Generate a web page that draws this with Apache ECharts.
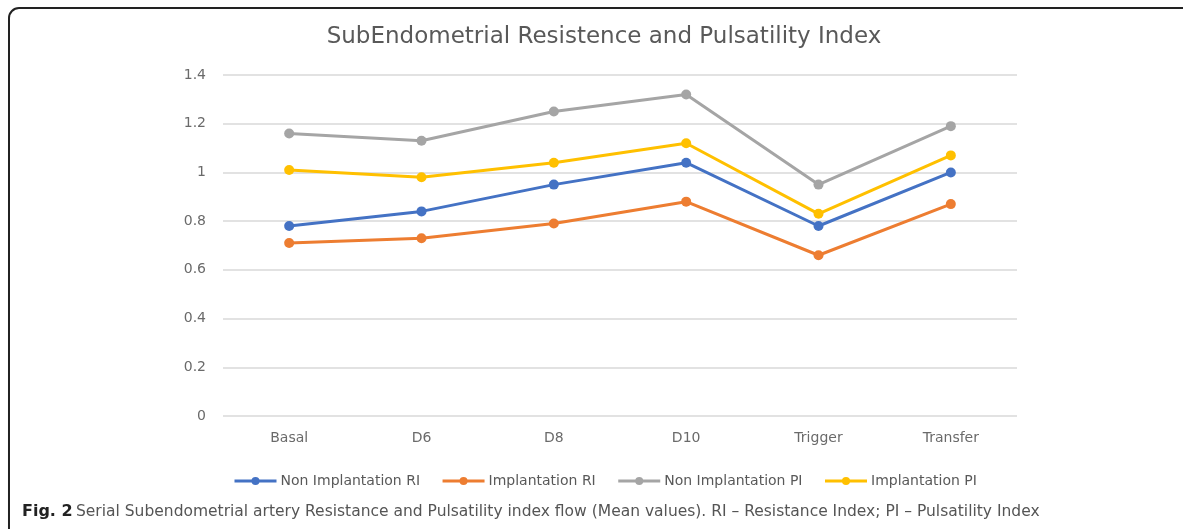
<!DOCTYPE html>
<html>
<head>
<meta charset="utf-8">
<script src="https://cdn.jsdelivr.net/npm/echarts@6/dist/echarts.min.js"></script>
<style>
  html, body { margin: 0; padding: 0; background: #fff; }
  #chart { width: 1183px; height: 529px; }
</style>
</head>
<body>
<div id="chart"></div>
<script>
// Sampling points across the stimulation cycle
const categories = ['Basal', 'D6', 'D8', 'D10', 'Trigger', 'Transfer'];

// Mean index values per group
const nonImplantationRI = [0.78, 0.84, 0.95, 1.04, 0.78, 1.00];
const implantationRI    = [0.71, 0.73, 0.79, 0.88, 0.66, 0.87];
const nonImplantationPI = [1.16, 1.13, 1.25, 1.32, 0.95, 1.19];
const implantationPI    = [1.01, 0.98, 1.04, 1.12, 0.83, 1.07];

const seriesNames = ['Non Implantation RI', 'Implantation RI', 'Non Implantation PI', 'Implantation PI'];
const seriesColors = ['#4472C4', '#ED7D31', '#A5A5A5', '#FFC000'];
const seriesData = [nonImplantationRI, implantationRI, nonImplantationPI, implantationPI];

const FONT = '"DejaVu Sans", sans-serif';

const chart = echarts.init(document.getElementById('chart'));

chart.setOption({
  backgroundColor: '#fff',
  animation: false,
  color: seriesColors,
  grid: { left: 223, right: 166, top: 75, bottom: 113, containLabel: false },
  legend: {
    data: seriesNames,
    left: 228,
    top: 469,
    itemWidth: 42,
    itemHeight: 10,
    itemGap: 21,
    lineStyle: { width: 3 },
    textStyle: { color: '#595959', fontSize: 14, fontFamily: FONT, padding: [0, 0, 0, -1] }
  },
  xAxis: {
    type: 'category',
    data: categories,
    boundaryGap: true,
    axisLine: { show: false },
    axisTick: { show: false },
    axisLabel: { color: '#6a6a6a', fontSize: 14, fontFamily: FONT, margin: 15 }
  },
  yAxis: {
    type: 'value',
    min: 0,
    max: 1.4,
    interval: 0.2,
    axisLine: { show: false },
    axisTick: { show: false },
    axisLabel: {
      color: '#6a6a6a', fontSize: 14, fontFamily: FONT, margin: 17,
      formatter: v => String(Math.round(v * 10) / 10)
    },
    splitLine: { lineStyle: { color: '#D9D9D9', width: 1.5 } }
  },
  series: seriesData.map((d, i) => ({
    name: seriesNames[i],
    type: 'line',
    data: d,
    symbol: 'circle',
    symbolSize: 10,
    lineStyle: { width: 3, color: seriesColors[i] },
    itemStyle: { color: seriesColors[i] }
  })),
  graphic: [
    {
      type: 'rect',
      shape: { x: 9, y: 8, width: 1220, height: 560, r: 10 },
      style: { fill: null, stroke: '#222', lineWidth: 2 },
      silent: true
    },
    {
      type: 'text',
      x: 604,
      y: 26,
      style: {
        text: 'SubEndometrial Resistence and Pulsatility Index',
        fill: '#595959',
        font: '23px ' + FONT,
        textAlign: 'center'
      }
    },
    {
      type: 'text',
      x: 22,
      y: 504,
      style: {
        rich: {
          b: { fontWeight: 'bold', fill: '#222', fontSize: 16, fontFamily: FONT },
          n: { fill: '#555', fontSize: 15.5, fontFamily: FONT }
        },
        text: '{b|Fig. 2} {n|Serial Subendometrial artery Resistance and Pulsatility index flow (Mean values). RI – Resistance Index; PI – Pulsatility Index}'
      }
    }
  ]
});
</script>
</body>
</html>
